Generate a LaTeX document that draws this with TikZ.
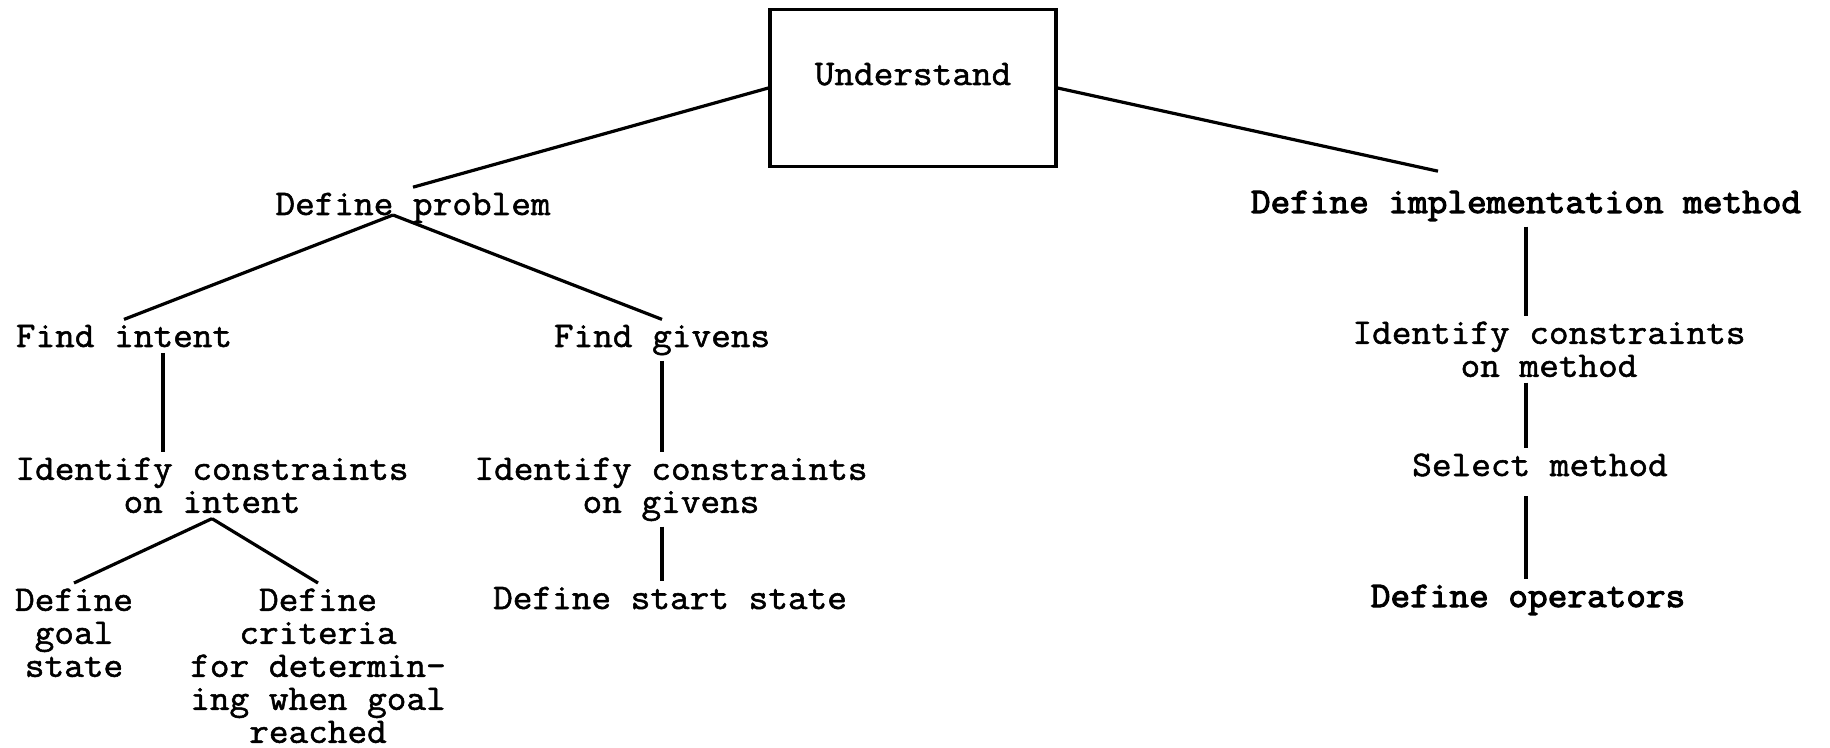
\documentclass[tikz,border=0pt]{standalone}
\usepackage{fontspec}
\newfontfamily\tw{Latin Modern Mono}[FakeStretch=1.06, FakeBold=1.5]
\newfontfamily\twb{Latin Modern Mono}[FakeStretch=1.06, FakeBold=3]
\begin{document}
\begin{tikzpicture}[x=0.5pt, y=-0.5pt, line width=1.6pt,
    every node/.style={font=\tw\fontsize{18}{16.5}\selectfont, inner sep=2pt, align=center},
    heavy/.style={font=\twb\fontsize{18}{16.5}\selectfont},
    box/.style={draw, minimum width=143pt, minimum height=78.5pt, text height=12pt, text depth=15pt}]
            \useasboundingbox (0,0) rectangle (1830,748);

            % Nodes
            \node[box] (u) at (913,88) {Understand};
            \node[anchor=base] (dp) at (413,215) {Define problem};
            \node[anchor=base, heavy] (dim) at (1526,213) {Define implementation method};
            \node[anchor=base] (fi) at (124,347) {Find intent};
            \node[anchor=base] (fg) at (662,347) {Find givens};
            \node[anchor=north] (ici) at (212,452) {Identify constraints\\on intent};
            \node[anchor=north] (icg) at (671,452) {Identify constraints\\on givens};
            \node[anchor=north] (icm) at (1549,316) {Identify constraints\\on method};
            \node[anchor=base] (sm) at (1540,476) {Select method};
            \node[anchor=base, heavy] (dop) at (1528,607) {Define operators};
            \node[anchor=base] (dss) at (670,609) {Define start state};
            \node[anchor=north] (dgs) at (74,583) {Define\\goal\\state};
            \node[anchor=north] (dcr) at (318,583) {Define\\criteria\\for determin-\\ing when goal\\reached};

            % Edges
            \draw (u.west) -- (dp.north);
            \draw (u.east) -- ([shift={(-44pt,7pt)}]dim.north);
            \draw ([xshift=-10pt]dp.base) -- (fi.north);
            \draw ([xshift=-10pt]dp.base) -- (fg.north);
            \draw ([xshift=19.5pt]fi.south) -- ([xshift=19.5pt]fi.south |- ici.north);
            \draw (fg.south) -- (fg.south |- icg.north);
            \draw (icg.south -| fg.south) -- (dss.north -| fg.south);
            \draw (ici.south) -- (dgs.north);
            \draw (ici.south) -- (dcr.north);
            \draw (dim.south) -- (dim.south |- icm.north);
            \draw (icm.south -| dim.south) -- (sm.north -| dim.south);
            \draw ([yshift=-7pt]sm.south -| dim.south) -- (dop.north -| dim.south);
\end{tikzpicture}
\end{document}
